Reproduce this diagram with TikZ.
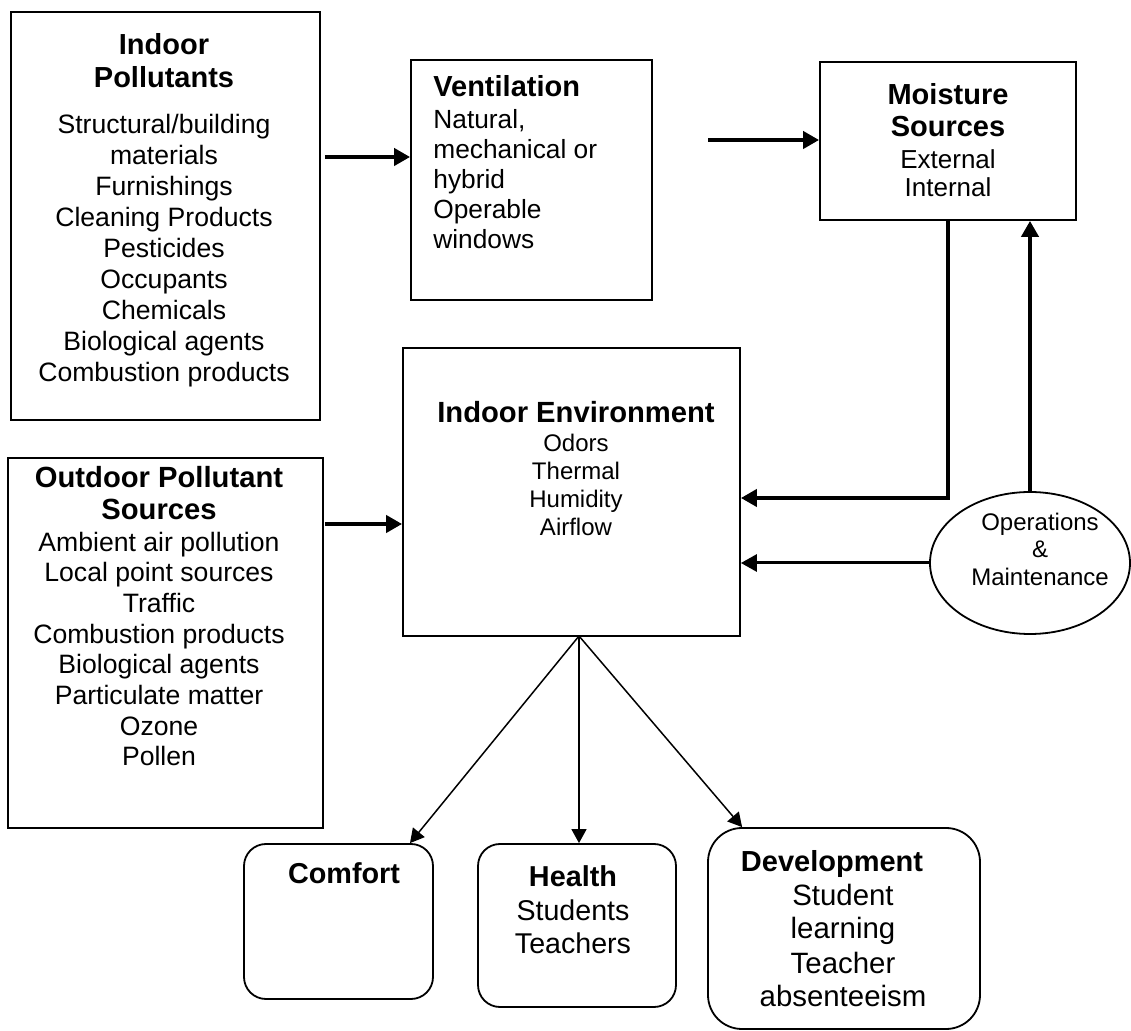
\documentclass[tikz,border=0pt]{standalone}
\usepackage{fontspec}
\setmainfont{Liberation Sans}
\usetikzlibrary{arrows.meta,shapes.geometric,fit,calc}

\tikzset{
  box/.style={draw, line width=0.9pt, inner sep=0pt},
  rbox/.style={box, rounded corners=11pt},
  ttl/.style={font=\bfseries\fontsize{14.5}{16.5}\selectfont, align=center, anchor=base, inner sep=0pt},
  lst/.style={align=center, anchor=base, inner sep=0pt},
  thk/.style={line width=2pt, -{Triangle[length=8pt,width=8.5pt]}},
  thn/.style={line width=0.75pt, -{Triangle[length=7pt,width=7.5pt]}},
}

\begin{document}
\begin{tikzpicture}[x=0.5pt,y=-0.5pt]
	\fill[white] (0,0) rectangle (1131,1031);
	\useasboundingbox (0,0) rectangle (1131,1031);
	% boxes
	\node[box, fit={(11,12) (320,420)}] (ip) {};
	\node[box, fit={(411,60) (652,300)}] (vn) {};
	\node[box, fit={(820,62) (1076,220)}] (ms) {};
	\node[box, fit={(403,348) (740,636)}] (ie) {};
	\node[box, fit={(8,458) (323,828)}] (od) {};
	\node[box, ellipse, minimum width=100pt, minimum height=71pt] (om) at (1030,563) {};
	\node[rbox, fit={(244,844) (433,999)}] (cf) {};
	\node[rbox, fit={(478,844) (676,1007)}] (hl) {};
	\node[rbox, rounded corners=17pt, fit={(708,828) (980,1029)}] (dv) {};
	% texts (base = last line)
	\node[ttl] (ipT) at (164,88) {Indoor\\Pollutants};
	\node[lst, font=\fontsize{13.3}{15.5}\selectfont] (ipL) at (164,382) {Structural/building\\materials\\Furnishings\\Cleaning Products\\Pesticides\\Occupants\\Chemicals\\Biological agents\\Combustion products};
	\node[ttl, anchor=base west, align=left] (vnT) at (433,97) {Ventilation};
	\node[lst, anchor=base west, align=left, font=\fontsize{13.15}{15}\selectfont] (vnL) at (433,249) {Natural,\\mechanical or\\hybrid\\Operable\\windows};
	\node[ttl, font=\bfseries\fontsize{14.5}{16}\selectfont] (msT) at (948,137) {Moisture\\Sources};
	\node[lst, font=\fontsize{13}{14}\selectfont] (msL) at (948,197) {External\\Internal};
	\node[ttl, font=\bfseries\fontsize{14.6}{16}\selectfont] (ieT) at (576,423) {Indoor Environment};
	\node[lst, font=\fontsize{12}{14}\selectfont] (ieL) at (576,535.5) {Odors\\Thermal\\Humidity\\Airflow};
	\node[ttl, font=\bfseries\fontsize{14.6}{16}\selectfont] (odT) at (159,520) {Outdoor Pollutant\\Sources};
	\node[lst, font=\fontsize{13.3}{15.35}\selectfont] (odL) at (159,766) {Ambient air pollution\\Local point sources\\Traffic\\Combustion products\\Biological agents\\Particulate matter\\Ozone\\Pollen};
	\node[lst, font=\fontsize{12}{13.75}\selectfont] (omT) at (1040,585.5) {Operations\\\&\\Maintenance};
	\node[ttl, font=\bfseries\fontsize{14.4}{17}\selectfont] (cfT) at (344,884) {Comfort};
	\node[ttl, font=\bfseries\fontsize{14.4}{17}\selectfont] (hlT) at (573,887) {Health};
	\node[lst, font=\fontsize{14.3}{17}\selectfont] (hlL) at (573,954) {Students\\Teachers};
	\node[ttl, font=\bfseries\fontsize{14.5}{17}\selectfont] (dvT) at (832,872) {Development};
	\node[lst, font=\fontsize{14.7}{17}\selectfont] (dvL) at (843,1007) {Student\\learning\\Teacher\\absenteeism};
	% connectors
	\coordinate (ipOut) at (324,157);
	\coordinate (vnOut) at (708,140);
	\coordinate (msBend) at (948,498);
	\coordinate (odOut) at (324,524);
	\coordinate (apex) at (579,636);
	\draw[thk, shorten <=2pt] (ip.east |- ipOut) -- (vn.west |- ipOut);
	\draw[thk] (vnOut) -- (ms.west |- vnOut);
	\draw[thk] (ms.south -| msBend) |- (ie.east |- msBend);
	\draw[thk] (om.north) -- (om.north |- ms.south);
	\draw[thk, line width=1.5pt] (om.west) -- (om.west -| ie.east);
	\draw[thk, shorten <=0.5pt] (od.east |- odOut) -- (ie.west |- odOut);
	\draw[thn] (apex) -- ($(cf.north)+(71.5,0)$);
	\draw[thn] (apex) -- (apex |- hl.north);
	\draw[thn] (apex) -- ($(dv.north west)+(35,0)$);
\end{tikzpicture}
\end{document}
